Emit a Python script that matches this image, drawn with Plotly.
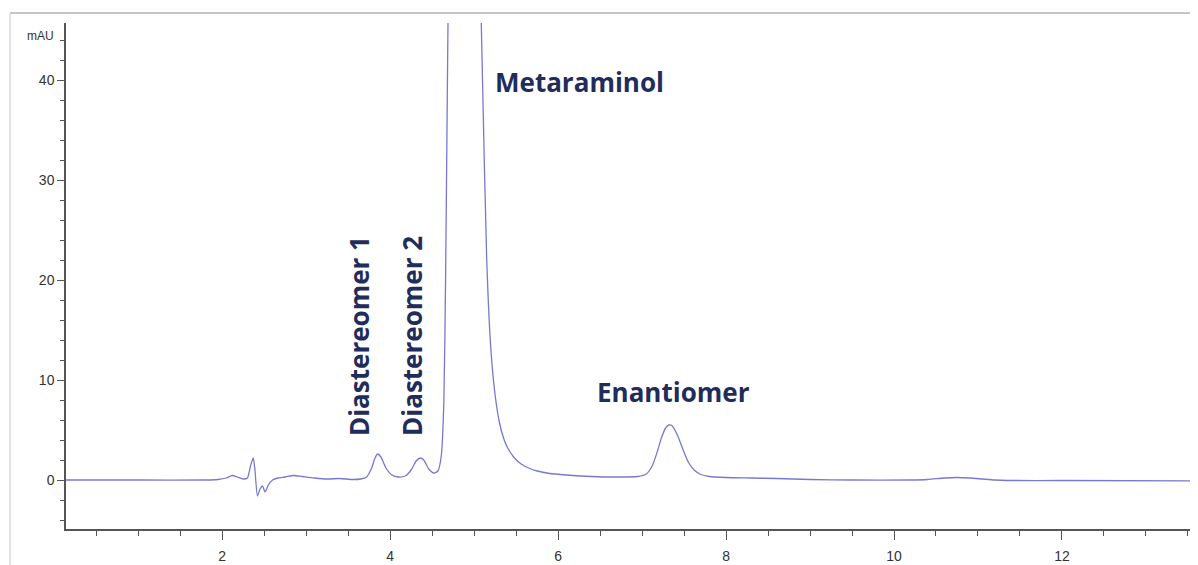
import plotly.graph_objects as go

# Retention time (min) and absorbance (mAU)
time_min = [0.14, 1.0, 1.8, 1.95, 2.05, 2.12, 2.18, 2.25, 2.30, 2.34, 2.37, 2.39, 2.42, 2.45,
            2.48, 2.51, 2.55, 2.60, 2.66, 2.75, 2.85, 2.95, 3.1, 3.25, 3.4, 3.55, 3.65, 3.72,
            3.78, 3.82, 3.85, 3.89, 3.95, 4.02, 4.1, 4.18, 4.25, 4.31, 4.36, 4.40, 4.46, 4.52,
            4.57, 4.61, 4.64, 4.66, 4.68, 4.70, 4.75, 4.82, 4.90, 4.98, 5.05, 5.10, 5.15, 5.20,
            5.25, 5.30, 5.35, 5.40, 5.48, 5.56, 5.65, 5.75, 5.9, 6.1, 6.4, 6.7, 6.95, 7.05,
            7.12, 7.18, 7.23, 7.28, 7.32, 7.36, 7.42, 7.48, 7.55, 7.62, 7.70, 7.8, 8.0, 8.3,
            8.6, 9.0, 9.5, 10.2, 10.4, 10.6, 10.75, 10.9, 11.05, 11.2, 11.35, 12.0, 13.62]
absorbance_mau = [0, 0, 0, 0.05, 0.2, 0.45, 0.3, 0.1, 0.2, 1.5, 2.2, 1.0, -1.6, -0.9,
                  -0.6, -1.2, -0.5, 0.0, 0.2, 0.3, 0.45, 0.35, 0.2, 0.1, 0.15, 0.05, 0.1, 0.3,
                  1.2, 2.2, 2.6, 2.3, 1.2, 0.5, 0.3, 0.4, 1.0, 1.9, 2.2, 2.0, 1.1, 0.7,
                  0.9, 2.5, 8, 20, 38, 55, 90, 130, 140, 110, 60, 40, 22, 13,
                  8.5, 5.8, 4.2, 3.2, 2.2, 1.6, 1.2, 0.9, 0.65, 0.5, 0.35, 0.3, 0.35, 0.6,
                  1.4, 2.8, 4.2, 5.2, 5.5, 5.4, 4.5, 3.2, 1.8, 1.0, 0.55, 0.35, 0.25, 0.2,
                  0.15, 0.05, 0.0, 0.0, 0.05, 0.2, 0.25, 0.2, 0.1, 0.0, -0.05, -0.05, -0.1]

# Peak labels: text, x (min), y (mAU), rotation
label_text = ["Metaraminol", "Enantiomer", "Diastereomer 1", "Diastereomer 2"]
label_x = [6.25, 7.38, 3.63, 4.26]
label_y = [39.8, 8.8, 14.4, 14.4]
label_angle = [0, 0, -90, -90]

x_tick_vals = [2, 4, 6, 8, 10, 12]
y_tick_vals = [0, 10, 20, 30, 40]

fig = go.Figure()
fig.add_trace(go.Scatter(
    x=time_min, y=absorbance_mau, mode="lines",
    line=dict(color="#7878d0", width=1.3, shape="spline", smoothing=0.6),
    hoverinfo="x+y", showlegend=False,
))

for t, x, y, a in zip(label_text, label_x, label_y, label_angle):
    fig.add_annotation(
        x=x, y=y, text=t, textangle=a, showarrow=False,
        font=dict(family="Open Sans", size=26, color="#1f2c5c", weight="bold"),
        xanchor="center", yanchor="middle",
    )

tick_font = dict(family="Liberation Sans Narrow, Arial Narrow, sans-serif", size=14, color="#333333")

fig.add_annotation(
    x=-0.009, y=44.4, xref="paper", yref="y", text="mAU", showarrow=False,
    font=dict(family="Liberation Sans Narrow, Arial Narrow, sans-serif", size=12, color="#333333"),
    xanchor="right", yanchor="middle",
)

fig.update_xaxes(
    range=[0.14, 13.62], tickmode="array", tickvals=x_tick_vals,
    ticks="outside", ticklen=9, tickwidth=1.2, tickcolor="#555555",
    showline=True, linecolor="#555555", linewidth=1.5, showgrid=False, zeroline=False,
    minor=dict(dtick=0.5, tick0=0, ticks="outside", ticklen=5, tickcolor="#555555", tickwidth=1.2),
    tickfont=tick_font, ticklabelstandoff=4,
)
fig.update_yaxes(
    range=[-4.9, 45.7], tickmode="array", tickvals=y_tick_vals,
    ticks="outside", ticklen=7, tickwidth=1.2, tickcolor="#555555",
    showline=True, linecolor="#555555", linewidth=1.5, showgrid=False, zeroline=False,
    minor=dict(dtick=2, tick0=0, ticks="outside", ticklen=4, tickcolor="#555555", tickwidth=1.2),
    tickfont=tick_font,
)

# Frame around the screenshot area
fig.add_shape(type="line", xref="paper", yref="paper", x0=-0.0495, x1=1.0, y0=1.0198, y1=1.0198,
              line=dict(color="#c4c4c4", width=2))
fig.add_shape(type="line", xref="paper", yref="paper", x0=-0.0495, x1=-0.0495, y0=-0.075, y1=1.0198,
              line=dict(color="#e2e2e2", width=2))

fig.update_layout(
    width=1190, height=557,
    margin=dict(l=58, r=0, t=15, b=36),
    paper_bgcolor="white", plot_bgcolor="white",
)

fig.write_html("out.html")
